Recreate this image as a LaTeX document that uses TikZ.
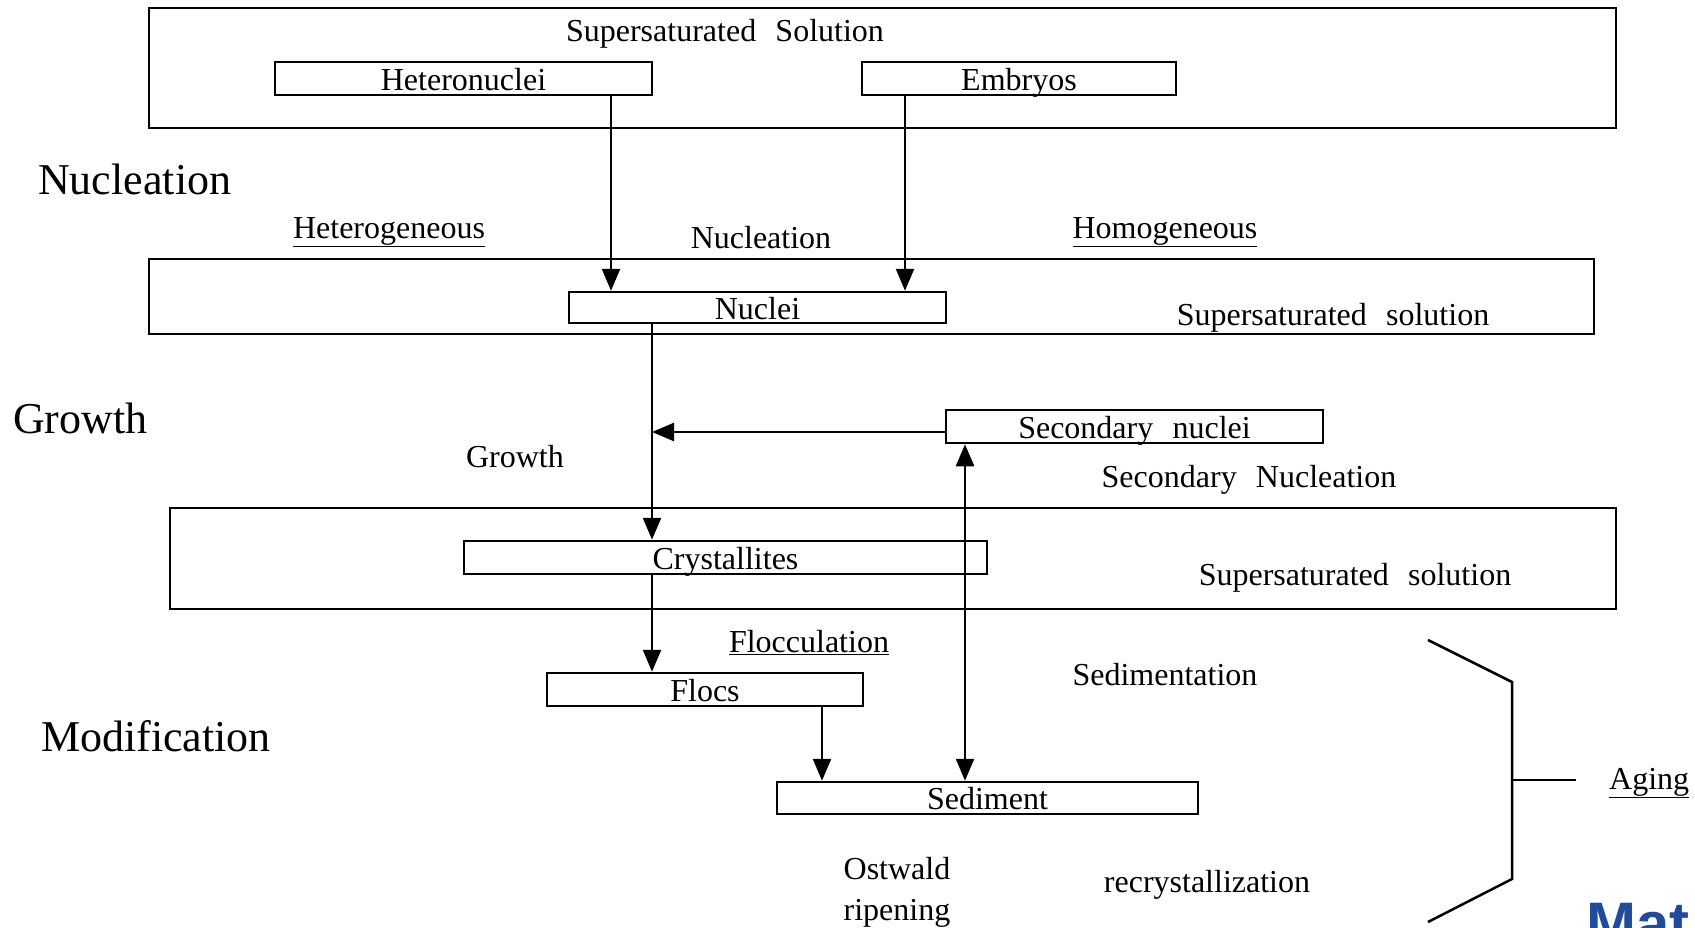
\documentclass[tikz,border=0pt]{standalone}
\usepackage{fontspec}
\setmainfont{Liberation Serif}
\setsansfont{Liberation Sans}
\usetikzlibrary{arrows.meta}
\definecolor{logoblue}{RGB}{30,75,155}
\begin{document}
\begin{tikzpicture}[x=1pt,y=-1pt,
  outer/.style={draw, line width=2.5pt, inner sep=0pt},
  box/.style={draw, line width=2.5pt, inner sep=0pt, font=\fontsize{32}{36}\selectfont, text height=25pt, text depth=2pt},
  lbl/.style={font=\fontsize{32}{36}\selectfont, inner sep=0pt},
  big/.style={font=\fontsize{44}{48}\selectfont, inner sep=0pt, anchor=west},
  arr/.style={line width=2.5pt, -{Triangle[length=22pt,width=18pt]}},
  darr/.style={line width=2.5pt, {Triangle[length=22pt,width=18pt]}-{Triangle[length=22pt,width=18pt]}},
  brk/.style={line width=2.5pt, line join=miter},
]
\clip (0,0) rectangle (1695,927);
\fill[white] (0,0) rectangle (1695,927);

% outer boxes
\node[outer, minimum width=1467pt, minimum height=120pt] (o1) at (882.5,68) {};
\node[outer, minimum width=1445pt, minimum height=75pt] (o2) at (871.5,296.5) {};
\node[outer, minimum width=1446pt, minimum height=101pt] (o3) at (893,558.5) {};

% inner boxes
\node[box, minimum width=377pt, minimum height=33pt] (het) at (463.5,78.5) {Heteronuclei};
\node[box, minimum width=314pt, minimum height=33pt] (emb) at (1019,78.5) {Embryos};
\node[box, minimum width=377pt, minimum height=31pt] (nuc) at (757.5,307.5) {Nuclei};
\node[box, minimum width=377pt, minimum height=33pt] (sec) at (1134.5,426.5) {Secondary\hspace{0.35em} nuclei};
\node[box, minimum width=523pt, minimum height=33pt] (cry) at (725.5,557.5) {Crystallites};
\node[box, minimum width=316pt, minimum height=33pt] (flo) at (705,689.5) {Flocs};
\node[box, minimum width=421pt, minimum height=32pt] (sed) at (987.5,798) {Sediment};

% labels
\node[lbl] (l1) at (725,34) {Supersaturated\hspace{0.35em} Solution};
\node[lbl] (l2) at (389,232) {\underline{Heterogeneous}};
\node[lbl] (l3) at (761,238) {Nucleation};
\node[lbl] (l4) at (1165,232) {\underline{Homogeneous}};
\node[lbl] (l5) at (1333,318) {Supersaturated\hspace{0.35em} solution};
\node[lbl] (l6) at (515,457) {Growth};
\node[lbl] (l7) at (1249,480) {Secondary\hspace{0.35em} Nucleation};
\node[lbl] (l8) at (1355,578) {Supersaturated\hspace{0.35em} solution};
\node[lbl] (l9) at (809,643) {\underline{Flocculation}};
\node[lbl] (l10) at (1165,675) {Sedimentation};
\node[lbl, align=center, font=\fontsize{32}{41}\selectfont] (l11) at (897,892) {Ostwald\\ripening};
\node[lbl] (l12) at (1207,885) {recrystallization};
\node[lbl, anchor=west] (l13) at (1609,783) {\underline{Aging}};

\node[big] (n1) at (38,179) {Nucleation};
\node[big] (n2) at (13,418) {Growth};
\node[big] (n3) at (41,736) {Modification};

% column coordinates
\coordinate (c1) at (611,0);
\coordinate (c2) at (905,0);
\coordinate (c3) at (652,0);
\coordinate (c4) at (965,0);
\coordinate (c5) at (822,0);
\coordinate (r1) at (0,432);

% connectors
\draw[arr] (het.south -| c1) -- (nuc.north -| c1);
\draw[arr] (emb.south -| c2) -- (nuc.north -| c2);
\draw[arr] (nuc.south -| c3) -- (cry.north -| c3);
\draw[arr] (sec.west |- r1) -- (c3 |- r1);
\draw[darr] (sed.north -| c4) -- (sec.south -| c4);
\draw[arr] (cry.south -| c3) -- (flo.north -| c3);
\draw[arr] (flo.south -| c5) -- (sed.north -| c5);

% bracket
\coordinate (b1) at (1428,640);
\coordinate (b2) at (1512,682);
\coordinate (b3) at (1512,879);
\coordinate (b4) at (1428,922);
\coordinate (b5) at (1512,780);
\coordinate (b6) at (1576,780);
\draw[brk] (b1) -- (b2) -- (b3) -- (b4);
\draw[brk] (b5) -- (b6);

% cut-off logo text
\node[anchor=north west, inner sep=0pt, text=logoblue, font=\sffamily\bfseries\fontsize{60}{60}\selectfont] (logo) at (1586,903) {Mat};
\end{tikzpicture}
\end{document}
